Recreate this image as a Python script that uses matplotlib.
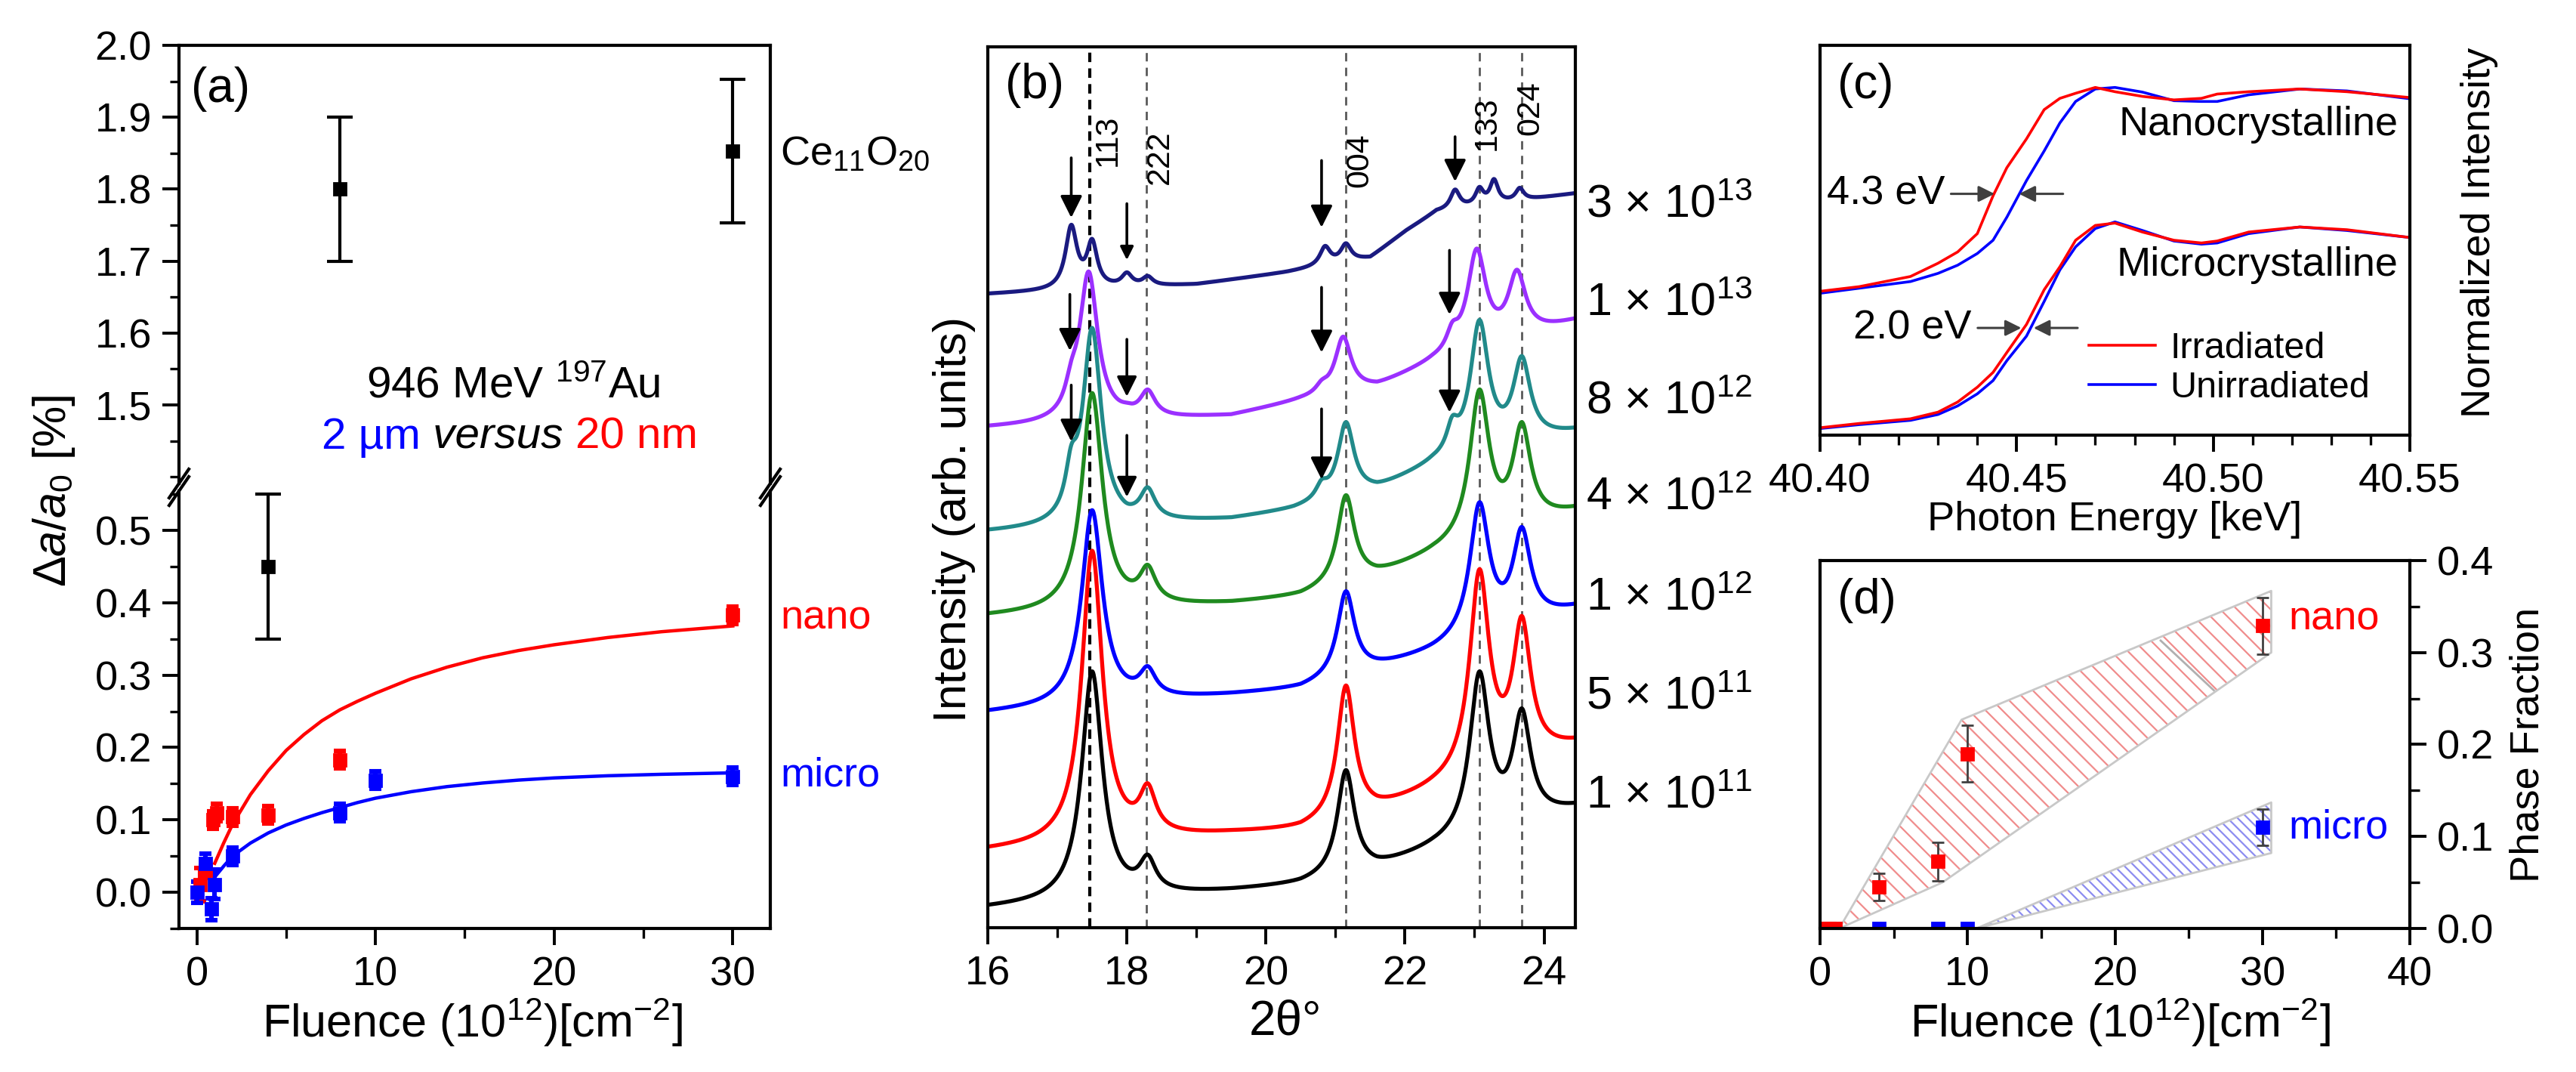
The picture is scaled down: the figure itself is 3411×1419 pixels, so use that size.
import numpy as np
import matplotlib
matplotlib.use('Agg')
import matplotlib.pyplot as plt
from matplotlib.lines import Line2D
from matplotlib.ticker import MultipleLocator, FormatStrFormatter

plt.rcParams['font.family'] = ['Liberation Sans', 'DejaVu Sans']
plt.rcParams['mathtext.fontset'] = 'custom'
plt.rcParams['mathtext.rm'] = 'Liberation Sans'
plt.rcParams['mathtext.it'] = 'Liberation Sans:italic'
plt.rcParams['mathtext.bf'] = 'Liberation Sans:bold'
plt.rcParams['hatch.linewidth'] = 0.8
plt.rcParams['axes.linewidth'] = 1.5

W, H, DPI = 3411, 1419, 200
TICK_FS = 19.5
LABEL_FS = 22

# ---------------- (a) lattice expansion vs fluence ----------------
nano_x = [0.2, 0.5, 0.9, 1.1, 2.0, 4.0, 8.0, 30.0]
nano_y = [0.011, 0.03, 0.10, 0.11, 0.104, 0.107, 0.183, 0.383]
nano_err = [0.023, 0.01, 0.012, 0.012, 0.012, 0.012, 0.012, 0.012]
micro_x = [0.0, 0.5, 0.8, 1.0, 2.0, 8.0, 10.0, 30.0]
micro_y = [0.0, 0.04, -0.023, 0.011, 0.05, 0.11, 0.155, 0.16]
micro_err = [0.015, 0.013, 0.015, 0.02, 0.012, 0.012, 0.012, 0.012]
ce_x = [4.0, 8.0, 30.0]
ce_y = [0.45, 1.80, 1.853]
ce_err = [0.1, 0.1, 0.1]
# fitted curves
nano_fit_x = [1.0, 1.5, 2.0, 3.0, 4.0, 5.0, 6.0, 7.0, 8.0, 9.0, 10, 12, 14, 16, 18, 20, 23, 26, 30]
nano_fit_y = [0.04, 0.068, 0.094, 0.135, 0.168, 0.196, 0.218, 0.237, 0.252, 0.264, 0.275,
              0.295, 0.311, 0.324, 0.334, 0.342, 0.352, 0.36, 0.368]
micro_fit_x = [0.9, 1.5, 2.0, 3.0, 4.0, 5.0, 6.0, 7.0, 8.0, 9.0, 10, 12, 14, 16, 18, 20, 23, 26, 30]
micro_fit_y = [0.018, 0.036, 0.05, 0.068, 0.082, 0.093, 0.102, 0.110, 0.117, 0.124, 0.130,
               0.139, 0.146, 0.151, 0.155, 0.158, 0.161, 0.163, 0.165]

# ---------------- (b) XRD patterns (axis-fraction units) ----------------
xrd_labels = ['1 × 10$^{11}$', '5 × 10$^{11}$', '1 × 10$^{12}$', '4 × 10$^{12}$',
              '8 × 10$^{12}$', '1 × 10$^{13}$', '3 × 10$^{13}$']
xrd_colors = ['black', '#ff0000', '#0000ff', '#1f8a1f', '#218a8a', '#9b30ff', '#1a1a80']
xrd_label_y = [0.149, 0.262, 0.374, 0.488, 0.597, 0.708, 0.82]
# points on each pattern away from the reflections: (2theta, level)
bg_1e11 = [(16.0, 0.026), (19.5, 0.045), (20.5, 0.056), (21.6, 0.081), (22.4, 0.102), (24.45, 0.142)]
bg_5e11 = [(16.0, 0.092), (19.5, 0.111), (20.5, 0.120), (21.6, 0.150), (22.4, 0.172), (24.45, 0.216)]
bg_1e12 = [(16.0, 0.247), (19.5, 0.267), (20.5, 0.277), (21.6, 0.306), (22.4, 0.323), (24.45, 0.368)]
bg_4e12 = [(16.0, 0.357), (19.5, 0.371), (20.5, 0.382), (21.6, 0.411), (22.4, 0.435), (24.45, 0.479)]
bg_8e12 = [(16.0, 0.452), (19.5, 0.466), (20.4, 0.479), (21.6, 0.506), (22.4, 0.537), (24.45, 0.568)]
bg_1e13 = [(16.0, 0.570), (19.5, 0.583), (20.5, 0.603), (21.6, 0.620), (22.4, 0.651), (24.45, 0.692)]
bg_3e13 = [(16.0, 0.720), (19.0, 0.731), (20.3, 0.745), (21.5, 0.762), (22.0, 0.791), (22.45, 0.815),
           (24.45, 0.834)]
# reflections: (2theta, curve top, half width)
pk_1e11 = [(17.5, 0.291, 0.18), (18.3, 0.083, 0.14), (21.15, 0.179, 0.15), (23.07, 0.291, 0.17), (23.68, 0.249, 0.155)]
pk_5e11 = [(17.5, 0.428, 0.18), (18.3, 0.164, 0.14), (21.15, 0.275, 0.15), (23.07, 0.407, 0.17), (23.68, 0.354, 0.155)]
pk_1e12 = [(17.5, 0.474, 0.18), (18.3, 0.297, 0.14), (21.15, 0.382, 0.15), (23.07, 0.483, 0.17), (23.68, 0.455, 0.155)]
pk_4e12 = [(17.5, 0.607, 0.18), (18.3, 0.412, 0.14), (21.15, 0.491, 0.15), (23.07, 0.611, 0.17), (23.68, 0.574, 0.155)]
pk_8e12 = [(17.2, 0.548, 0.10), (17.5, 0.681, 0.16), (18.0, 0.482, 0.10), (18.3, 0.500, 0.13),
           (20.8, 0.509, 0.10), (21.15, 0.574, 0.14), (22.68, 0.581, 0.10), (23.07, 0.690, 0.16),
           (23.68, 0.649, 0.15)]
pk_1e13 = [(17.2, 0.644, 0.10), (17.45, 0.745, 0.16), (18.0, 0.596, 0.10), (18.3, 0.611, 0.13),
           (20.8, 0.622, 0.10), (21.11, 0.671, 0.14), (22.68, 0.688, 0.10), (23.03, 0.771, 0.16),
           (23.61, 0.747, 0.15)]
pk_3e13 = [(17.2, 0.798, 0.10), (17.5, 0.782, 0.09), (18.0, 0.744, 0.09), (18.3, 0.740, 0.09),
           (20.85, 0.774, 0.09), (21.15, 0.777, 0.09), (22.72, 0.838, 0.08), (23.07, 0.841, 0.07),
           (23.28, 0.850, 0.07), (23.65, 0.840, 0.07)]
xrd_bg = [bg_1e11, bg_5e11, bg_1e12, bg_4e12, bg_8e12, bg_1e13, bg_3e13]
xrd_peaks = [pk_1e11, pk_5e11, pk_1e12, pk_4e12, pk_8e12, pk_1e13, pk_3e13]
hkl_pos = [17.47, 18.28, 21.15, 23.07, 23.68]
hkl_labels = ['113', '222', '004', '133', '024']
hkl_text_x = [17.72, 18.48, 21.35, 23.18, 23.8]
hkl_text_y = [0.894, 0.875, 0.871, 0.913, 0.93]
# arrows: (2theta, start, tip, head size)
arrows_b = [(17.2, 0.874, 0.806, 22), (18.0, 0.822, 0.758, 13), (20.8, 0.871, 0.795, 22), (22.72, 0.898, 0.847, 22),
            (17.18, 0.719, 0.655, 22), (18.0, 0.668, 0.603, 20), (20.8, 0.727, 0.653, 22), (22.64, 0.769, 0.696, 22),
            (17.2, 0.616, 0.552, 22), (18.0, 0.559, 0.489, 20), (20.8, 0.589, 0.509, 22), (22.64, 0.657, 0.585, 22)]

# ---------------- (c) XANES ----------------
xanes_E = [40.400, 40.410, 40.423, 40.430, 40.435, 40.440, 40.444, 40.4475, 40.4525, 40.457, 40.461,
           40.465, 40.470, 40.475, 40.482, 40.490, 40.497, 40.501, 40.509, 40.522, 40.534, 40.550]
nano_irr = [0.369, 0.381, 0.407, 0.441, 0.470, 0.517, 0.614, 0.686, 0.760, 0.835, 0.864,
            0.877, 0.892, 0.881, 0.869, 0.860, 0.864, 0.875, 0.881, 0.888, 0.881, 0.866]
nano_unirr = [0.364, 0.377, 0.394, 0.415, 0.436, 0.466, 0.500, 0.559, 0.653, 0.729, 0.801,
              0.856, 0.888, 0.892, 0.880, 0.858, 0.856, 0.856, 0.873, 0.888, 0.883, 0.863]
micro_irr = [0.019, 0.030, 0.042, 0.059, 0.085, 0.123, 0.161, 0.212, 0.284, 0.373, 0.432,
             0.500, 0.538, 0.544, 0.521, 0.500, 0.493, 0.498, 0.521, 0.534, 0.527, 0.507]
micro_unirr = [0.017, 0.027, 0.038, 0.053, 0.075, 0.106, 0.140, 0.191, 0.254, 0.343, 0.424,
               0.483, 0.530, 0.547, 0.525, 0.498, 0.490, 0.493, 0.517, 0.534, 0.525, 0.507]

# ---------------- (d) phase fraction ----------------
pf_nano_x = [0.2, 0.6, 1.0, 4.0, 8.0, 10.0, 30.0]
pf_nano_y = [0.0, 0.0, 0.0, 0.045, 0.073, 0.19, 0.329]
pf_nano_err = [0.0, 0.0, 0.0, 0.015, 0.021, 0.031, 0.031]
pf_micro_x = [4.0, 8.0, 10.0, 30.0]
pf_micro_y = [0.0, 0.0, 0.0, 0.11]
pf_micro_err = [0.0, 0.0, 0.0, 0.02]
nano_band_x = [1.3, 9.6, 30.6, 30.6, 8.3, 1.3]
nano_band_y = [0.0, 0.227, 0.367, 0.30, 0.05, 0.0]
micro_band_x = [10.6, 30.6, 30.6, 10.6]
micro_band_y = [0.0, 0.137, 0.082, 0.0]


def rect(l, t, r, b):
    return [l / W, 1 - b / H, (r - l) / W, (b - t) / H]


def fxy(x, y):
    return x / W, 1 - y / H


def style_ticks(ax):
    ax.tick_params(which='major', direction='out', length=8, width=1.4, labelsize=TICK_FS, pad=5)
    ax.tick_params(which='minor', direction='out', length=4.5, width=1.2)


def lorentz(x, x0, w):
    return w ** 2 / ((x - x0) ** 2 + w ** 2)


def pattern(tt, bg, peaks):
    # linear background through the bg knots plus Lorentzian reflections,
    # scaled so that the trace passes through every point
    bx = np.array([p[0] for p in bg])
    pos = np.array([p[0] for p in peaks])
    hw = np.array([p[2] for p in peaks])
    xs = np.concatenate([bx, pos])
    ys = np.concatenate([[p[1] for p in bg], [p[1] for p in peaks]])
    eye = np.eye(len(bx))

    def basis(x):
        hats = np.stack([np.interp(x, bx, eye[k]) for k in range(len(bx))], axis=1)
        return np.hstack([hats, lorentz(x[:, None], pos[None, :], hw[None, :])])

    coef = np.linalg.solve(basis(xs), ys)
    return basis(tt) @ coef


fig = plt.figure(figsize=(W / DPI, H / DPI), dpi=DPI)

# ================= panel (a) =================
ax_up = fig.add_axes(rect(237, 60, 1020, 640))
ax_lo = fig.add_axes(rect(237, 650, 1020, 1229))
ax_up.set_ylim(2.0 - 580 / 952, 2.0)
ax_lo.set_ylim(-0.05, -0.05 + 579 / 958)
for ax in (ax_up, ax_lo):
    ax.set_xlim(-1.0, 32.1)
    style_ticks(ax)
    ax.yaxis.set_major_formatter(FormatStrFormatter('%.1f'))
    ax.yaxis.set_minor_locator(MultipleLocator(0.05))
    ax.tick_params(right=False, top=False)
    ax.errorbar(ce_x, ce_y, yerr=ce_err, fmt='s', color='k', ms=6, capsize=6,
                elinewidth=1.5, capthick=1.5)
ax_up.set_yticks([1.5, 1.6, 1.7, 1.8, 1.9, 2.0])
ax_up.spines['bottom'].set_visible(False)
ax_up.tick_params(bottom=False, labelbottom=False)
ax_lo.spines['top'].set_visible(False)
ax_lo.set_yticks([0.0, 0.1, 0.2, 0.3, 0.4, 0.5])
ax_lo.xaxis.set_major_locator(MultipleLocator(10))
ax_lo.xaxis.set_minor_locator(MultipleLocator(5))

ax_lo.plot(nano_fit_x, nano_fit_y, color='red', lw=1.6)
ax_lo.plot(micro_fit_x, micro_fit_y, color='blue', lw=1.6)
ax_lo.errorbar(nano_x, nano_y, yerr=nano_err, fmt='s', color='red', ms=5.5, capsize=3,
               elinewidth=2.2, capthick=2.2)
ax_lo.errorbar(micro_x, micro_y, yerr=micro_err, fmt='s', color='blue', ms=5.5, capsize=3,
               elinewidth=2.2, capthick=2.2)

ax_up.text(0.02, 0.9, '(a)', transform=ax_up.transAxes, fontsize=23, va='center')
ax_up.text(32.66, 1.849, 'Ce$_{11}$O$_{20}$', fontsize=19.5, va='center', clip_on=False)
ax_up.text(17.7, 1.526, '946 MeV $^{197}$Au', fontsize=21, ha='center', va='center')
t1 = ax_up.text(7.0, 1.455, '2 µm', fontsize=21, color='blue', va='center')
t2 = ax_up.annotate(' versus ', xy=(1, 0), xycoords=t1, va='bottom', fontsize=21,
                    style='italic', color='k')
ax_up.annotate('20 nm', xy=(1, 0), xycoords=t2, va='bottom', fontsize=21, color='red')
ax_lo.text(32.66, 0.378, 'nano', fontsize=19.5, color='red', va='center', clip_on=False)
ax_lo.text(32.66, 0.161, 'micro', fontsize=19.5, color='blue', va='center', clip_on=False)

# axis-break marks
for xs in (237, 1020):
    for ys in (640, 650):
        x0, y0 = fxy(xs - 13, ys + 19)
        x1, y1 = fxy(xs + 13, ys - 19)
        fig.add_artist(Line2D([x0, x1], [y0, y1], transform=fig.transFigure, color='k', lw=1.5))

fig.text(*fxy(72, 650), r'$\Delta\mathit{a}/\mathit{a}_\mathrm{0}$ [%]', rotation=90,
         ha='center', va='center', fontsize=LABEL_FS)
fig.text(*fxy(625, 1353), 'Fluence (10$^{12}$)[cm$^{-2}$]', ha='center', va='center', fontsize=LABEL_FS)

# ================= panel (b) =================
ax_b = fig.add_axes(rect(1308, 62, 2086, 1228))
ax_b.set_xlim(16, 24.45)
ax_b.set_ylim(0, 1)
style_ticks(ax_b)
ax_b.tick_params(left=False, labelleft=False, right=False, top=False)
ax_b.xaxis.set_major_locator(MultipleLocator(2))
ax_b.xaxis.set_minor_locator(MultipleLocator(1))

tt = np.linspace(16, 24.45, 1500)
for bg, peaks, col in zip(xrd_bg, xrd_peaks, xrd_colors):
    ax_b.plot(tt, pattern(tt, bg, peaks), color=col, lw=1.9)

for i, p in enumerate(hkl_pos):
    if i == 0:
        ax_b.axvline(p, color='k', lw=1.5, ls=(0, (3, 2)), zorder=0)
    else:
        ax_b.axvline(p, color='0.35', lw=1.0, ls=(0, (4, 3)), zorder=0)
for lab, tx, ty in zip(hkl_labels, hkl_text_x, hkl_text_y):
    ax_b.text(tx, ty, lab, rotation=90, ha='center', va='center', fontsize=15.5)
for ax_x, y_start, y_tip, hs in arrows_b:
    ax_b.annotate('', xy=(ax_x, y_tip), xytext=(ax_x, y_start),
                  arrowprops=dict(arrowstyle='-|>', color='k', lw=1.3, mutation_scale=hs,
                                  shrinkA=0, shrinkB=0))
for lab, ly in zip(xrd_labels, xrd_label_y):
    ax_b.text(1.018, ly, lab, transform=ax_b.transAxes, fontsize=22, va='center')
ax_b.text(0.03, 0.956, '(b)', transform=ax_b.transAxes, fontsize=23, va='center')
fig.text(*fxy(1263, 688), 'Intensity (arb. units)', rotation=90, ha='center', va='center', fontsize=LABEL_FS)
fig.text(*fxy(1702, 1353), '2θ°', ha='center', va='center', fontsize=23)

# ================= panel (c) =================
ax_c = fig.add_axes(rect(2410, 60, 3191, 576))
ax_c.set_xlim(40.40, 40.55)
ax_c.set_ylim(0, 1)
style_ticks(ax_c)
ax_c.tick_params(left=False, labelleft=False, right=False, top=False)
ax_c.xaxis.set_major_locator(MultipleLocator(0.05))
ax_c.xaxis.set_minor_locator(MultipleLocator(0.01))
ax_c.xaxis.set_major_formatter(FormatStrFormatter('%.2f'))
ax_c.plot(xanes_E, nano_unirr, color='blue', lw=1.3)
ax_c.plot(xanes_E, nano_irr, color='red', lw=1.3)
ax_c.plot(xanes_E, micro_unirr, color='blue', lw=1.3, label='Unirradiated')
ax_c.plot(xanes_E, micro_irr, color='red', lw=1.3, label='Irradiated')
h, l = ax_c.get_legend_handles_labels()
ax_c.legend(h[::-1], l[::-1], loc='lower left', bbox_to_anchor=(0.425, 0.03), frameon=False,
            fontsize=17.5, handlelength=1.8, handletextpad=0.4, labelspacing=0.15, borderpad=0)
ax_c.text(40.547, 0.797, 'Nanocrystalline', ha='right', va='center', fontsize=19.5)
ax_c.text(40.547, 0.436, 'Microcrystalline', ha='right', va='center', fontsize=19.5)
arr = dict(arrowstyle='-|>', color='0.25', lw=1.1, mutation_scale=16, shrinkA=0, shrinkB=0)
ax_c.text(40.4017, 0.619, '4.3 eV', va='center', fontsize=19.5)
ax_c.annotate('', xy=(40.4444, 0.619), xytext=(40.4333, 0.619), arrowprops=arr)
ax_c.annotate('', xy=(40.4506, 0.619), xytext=(40.4618, 0.619), arrowprops=arr)
ax_c.text(40.4085, 0.275, '2.0 eV', va='center', fontsize=19.5)
ax_c.annotate('', xy=(40.4512, 0.275), xytext=(40.4401, 0.275), arrowprops=arr)
ax_c.annotate('', xy=(40.4543, 0.275), xytext=(40.4655, 0.275), arrowprops=arr)
ax_c.text(0.03, 0.897, '(c)', transform=ax_c.transAxes, fontsize=23, va='center')
fig.text(*fxy(2800, 688), 'Photon Energy [keV]', ha='center', va='center', fontsize=19.5)
fig.text(*fxy(3283, 308), 'Normalized Intensity', rotation=90, ha='center', va='center', fontsize=19.5)

# ================= panel (d) =================
ax_d = fig.add_axes(rect(2410, 742, 3191, 1229))
ax_d.set_xlim(0, 40)
ax_d.set_ylim(0, 0.4)
style_ticks(ax_d)
ax_d.yaxis.tick_right()
ax_d.tick_params(which='both', left=False, top=False)
ax_d.xaxis.set_major_locator(MultipleLocator(10))
ax_d.xaxis.set_minor_locator(MultipleLocator(5))
ax_d.yaxis.set_major_locator(MultipleLocator(0.1))
ax_d.yaxis.set_minor_locator(MultipleLocator(0.05))
ax_d.yaxis.set_major_formatter(FormatStrFormatter('%.1f'))
ax_d.fill(nano_band_x, nano_band_y, facecolor='none', edgecolor='#f08c8c', hatch='\\\\\\', lw=0)
ax_d.fill(micro_band_x, micro_band_y, facecolor='none', edgecolor='#8c8cf0', hatch='\\\\\\\\\\', lw=0)
ax_d.plot(nano_band_x, nano_band_y, color='#c8c8c8', lw=1.0)
ax_d.plot(micro_band_x, micro_band_y, color='#c8c8c8', lw=1.0)
ax_d.plot([23.1, 26.7], [0.313, 0.259], color='#b0b0b0', lw=1.0)
ax_d.errorbar(pf_nano_x, pf_nano_y, yerr=pf_nano_err, fmt='s', color='red', ecolor='0.25',
              ms=6, capsize=3, elinewidth=1.0, capthick=1.0)
ax_d.errorbar(pf_micro_x, pf_micro_y, yerr=pf_micro_err, fmt='s', color='blue', ecolor='0.25',
              ms=6, capsize=3, elinewidth=1.0, capthick=1.0)
ax_d.text(31.8, 0.336, 'nano', color='red', fontsize=19.5, va='center')
ax_d.text(31.8, 0.11, 'micro', color='blue', fontsize=19.5, va='center')
ax_d.text(0.03, 0.891, '(d)', transform=ax_d.transAxes, fontsize=23, va='center')
fig.text(*fxy(2807, 1353), 'Fluence (10$^{12}$)[cm$^{-2}$]', ha='center', va='center', fontsize=LABEL_FS)
fig.text(*fxy(3347, 986), 'Phase Fraction', rotation=90, ha='center', va='center', fontsize=19.5)

fig.savefig('out.png', dpi=DPI, facecolor='white')
